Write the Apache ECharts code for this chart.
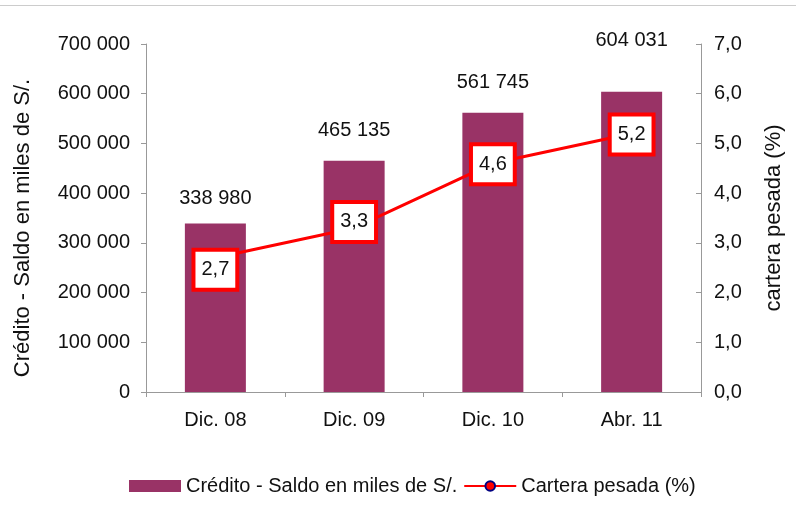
<!DOCTYPE html>
<html>
<head>
<meta charset="utf-8">
<script src="https://cdn.jsdelivr.net/npm/echarts@6/dist/echarts.min.js"></script>
<style>
  html, body { margin: 0; padding: 0; background: #fff; }
  #chart { width: 796px; height: 507px; }
</style>
</head>
<body>
<div id="chart"></div>
<script>
const categories = ["Dic. 08", "Dic. 09", "Dic. 10", "Abr. 11"];
const saldo = [338980, 465135, 561745, 604031];
const cartera = [2.7, 3.3, 4.6, 5.2];

// label placement, as in the original (labels nudged by hand there)
const barLabelDistance = [15, 20, 20, 41];
const boxOffsetY = [12, -6, 1, 1];

const fontFamily = "Liberation Sans, Arial, sans-serif";
const fmtMiles = (v) => String(v).replace(/\B(?=(\d{3})+(?!\d))/g, " ");
const fmtDec = (v) => v.toFixed(1).replace(".", ",");

const chart = echarts.init(document.getElementById("chart"));

chart.setOption({
  animation: false,
  textStyle: { fontFamily: fontFamily },
  graphic: [
    {
      type: "line",
      shape: { x1: 0, y1: 5.5, x2: 796, y2: 5.5 },
      style: { stroke: "#cccccc", lineWidth: 1 },
    },
  ],
  grid: {
    left: 146,
    right: 95,
    top: 44,
    bottom: 115,
  },
  legend: {
    top: 471,
    left: 124,
    itemGap: 6,
    itemWidth: 52,
    itemHeight: 12,
    textStyle: { fontSize: 20, color: "#111", fontFamily: fontFamily },
    data: [
      { name: "Crédito - Saldo en miles de S/.", icon: "rect" },
      { name: "Cartera pesada (%)" },
    ],
  },
  xAxis: {
    type: "category",
    data: categories,
    axisLine: { lineStyle: { color: "#999", width: 1 } },
    axisTick: { show: true, length: 5, lineStyle: { color: "#999" } },
    axisLabel: { fontSize: 20, color: "#111", margin: 18 },
  },
  yAxis: [
    {
      type: "value",
      min: 0,
      max: 700000,
      interval: 100000,
      name: "Crédito - Saldo en miles de S/.",
      nameLocation: "middle",
      nameGap: 112,
      nameTextStyle: { fontSize: 22, color: "#111", padding: [0, 20, 0, 0] },
      axisLine: { show: true, lineStyle: { color: "#999" } },
      axisTick: { show: true, length: 5, lineStyle: { color: "#999" } },
      splitLine: { show: false },
      axisLabel: { fontSize: 20, color: "#111", margin: 16, formatter: fmtMiles },
    },
    {
      type: "value",
      min: 0,
      max: 7,
      interval: 1,
      position: "right",
      name: "cartera pesada (%)",
      nameLocation: "middle",
      nameGap: 62,
      nameRotate: 90,
      nameTextStyle: { fontSize: 22, color: "#111" },
      axisLine: { show: true, lineStyle: { color: "#999" } },
      axisTick: { show: true, inside: true, length: 5, lineStyle: { color: "#999" } },
      splitLine: { show: false },
      axisLabel: { fontSize: 20, color: "#111", margin: 13, formatter: (v) => fmtDec(v) },
    },
  ],
  series: [
    {
      name: "Crédito - Saldo en miles de S/.",
      type: "bar",
      data: saldo.map((v, i) => ({
        value: v,
        label: { distance: barLabelDistance[i] },
      })),
      barWidth: 61,
      itemStyle: { color: "#993366" },
      label: {
        show: true,
        position: "top",
        fontSize: 20,
        color: "#111",
        formatter: (p) => fmtMiles(p.value),
      },
    },
    {
      name: "Cartera pesada (%)",
      type: "line",
      yAxisIndex: 1,
      data: cartera.map((v, i) => ({
        value: v,
        label: { offset: [0, boxOffsetY[i]] },
      })),
      symbol: "circle",
      symbolSize: 10,
      lineStyle: { color: "#ff0000", width: 3 },
      itemStyle: { color: "#ff0000", borderColor: "#000080", borderWidth: 2 },
      label: {
        show: true,
        position: "inside",
        fontSize: 20,
        color: "#111",
        backgroundColor: "#fff",
        borderColor: "#ff0000",
        borderWidth: 4,
        padding: [9, 6, 7, 6],
        formatter: (p) => fmtDec(p.value),
      },
    },
  ],
});
</script>
</body>
</html>
